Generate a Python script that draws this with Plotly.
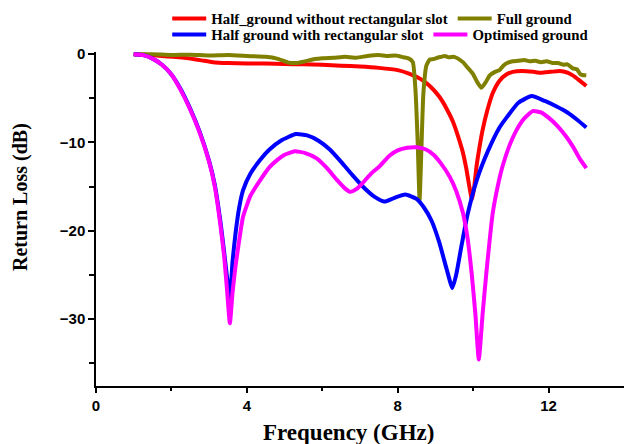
import plotly.graph_objects as go

# Half ground without rectangular slot
freq_red = [1.0, 1.3, 1.6, 1.9, 2.2, 2.5, 2.8, 3.1, 3.5, 4.0, 4.5, 5.0, 5.5, 6.0, 6.5,
            7.0, 7.5, 8.0, 8.3, 8.6, 8.85, 9.1, 9.3, 9.46, 9.6, 9.72, 9.82, 9.9, 9.97,
            10.03, 10.09, 10.17, 10.25, 10.38, 10.52, 10.7, 10.88, 11.05, 11.3, 11.6,
            11.8, 12.05, 12.3, 12.5, 12.64, 12.8, 13.0]
rl_red = [0.0, -0.05, -0.15, -0.25, -0.35, -0.5, -0.7, -0.9, -1.0, -1.05, -1.05, -1.1,
          -1.15, -1.2, -1.3, -1.4, -1.55, -1.8, -2.2, -2.8, -3.6, -4.8, -6.2, -7.6, -9.3,
          -11.0, -13.0, -15.0, -16.5, -15.0, -12.7, -10.5, -8.6, -6.3, -4.4, -3.0, -2.3,
          -2.0, -1.9, -2.0, -2.1, -2.0, -1.9, -2.1, -2.4, -2.9, -3.6]

# Full ground
freq_olive = [1.0, 1.5, 2.0, 2.5, 3.0, 3.5, 4.0, 4.5, 4.8, 5.1, 5.3, 5.5, 5.8, 6.0, 6.3,
              6.6, 6.9, 7.2, 7.5, 7.7, 7.95, 8.15, 8.3, 8.4, 8.47, 8.53, 8.58, 8.63, 8.68,
              8.76, 8.85, 8.95, 9.05, 9.15, 9.25, 9.35, 9.5, 9.6, 9.73, 9.85, 9.99, 10.1,
              10.22, 10.33, 10.44, 10.58, 10.7, 10.8, 10.9, 11.05, 11.2, 11.35, 11.5,
              11.65, 11.8, 11.95, 12.1, 12.25, 12.4, 12.5, 12.64, 12.75, 12.85, 13.0]
rl_olive = [0.0, 0.0, -0.1, -0.05, -0.15, -0.1, -0.2, -0.3, -0.5, -0.95, -1.0, -0.85,
            -0.55, -0.45, -0.4, -0.3, -0.4, -0.2, -0.1, -0.2, -0.15, -0.35, -0.5, -0.9,
            -4.0, -10.0, -16.5, -10.5, -4.5, -1.3, -0.6, -0.55, -0.4, -0.3, -0.2, -0.35,
            -0.3, -0.5, -0.9, -1.5, -2.2, -3.1, -3.8, -3.2, -2.4, -2.0, -1.8, -1.3, -1.0,
            -0.8, -0.75, -0.65, -0.8, -0.75, -0.9, -0.8, -1.0, -1.0, -1.2, -1.15, -1.6,
            -1.7, -2.3, -2.4]

# Half ground with rectangular slot
freq_blue = [1.0, 1.25, 1.5, 1.75, 2.0, 2.25, 2.5, 2.75, 3.0, 3.15, 3.3, 3.4, 3.48, 3.55,
             3.62, 3.7, 3.8, 3.9, 4.1, 4.35, 4.6, 4.9, 5.3, 5.6, 5.9, 6.2, 6.5, 6.8, 7.1,
             7.4, 7.65, 7.9, 8.2, 8.5, 8.7, 8.9, 9.1, 9.3, 9.45, 9.55, 9.7, 9.85, 10.1,
             10.4, 10.7, 10.9, 11.2, 11.55, 11.9, 12.2, 12.5, 12.75, 13.0]
rl_blue = [0.0, -0.1, -0.5, -1.2, -2.3, -4.0, -6.2, -8.8, -12.1, -14.8, -19.0, -22.5,
           -25.5, -27.8, -23.5, -20.3, -17.3, -15.4, -13.5, -12.0, -10.8, -9.8, -9.05,
           -9.2, -9.8, -10.8, -12.2, -13.7, -15.1, -16.2, -16.7, -16.3, -15.9, -16.4,
           -17.4, -18.9, -21.3, -24.4, -26.5, -25.0, -21.5, -18.2, -14.2, -10.9, -8.3,
           -7.1, -5.5, -4.75, -5.3, -5.9, -6.6, -7.4, -8.3]

# Optimised ground
freq_mag = [1.0, 1.25, 1.5, 1.75, 2.0, 2.25, 2.5, 2.75, 3.0, 3.15, 3.3, 3.4, 3.48, 3.55,
            3.62, 3.7, 3.8, 3.9, 4.1, 4.35, 4.6, 4.8, 5.0, 5.27, 5.55, 5.85, 6.1, 6.4,
            6.6, 6.75, 6.9, 7.07, 7.3, 7.52, 7.78, 8.0, 8.25, 8.5, 8.75, 8.95, 9.15,
            9.38, 9.55, 9.73, 9.85, 9.96, 10.06, 10.15, 10.25, 10.35, 10.52, 10.65,
            10.78, 10.95, 11.15, 11.35, 11.58, 11.8, 12.03, 12.25, 12.47, 12.65, 12.82,
            13.0]
rl_mag = [0.0, -0.1, -0.5, -1.2, -2.3, -4.1, -6.3, -8.9, -12.2, -15.0, -19.4, -23.0,
          -27.0, -30.5, -27.0, -24.0, -21.0, -18.4, -16.0, -14.3, -12.8, -12.0, -11.4,
          -11.0, -11.2, -11.8, -12.8, -14.3, -15.2, -15.6, -15.3, -14.6, -13.5, -12.7,
          -11.5, -10.9, -10.6, -10.55, -10.8, -11.4, -12.4, -13.9, -15.5, -18.0, -20.8,
          -24.8, -29.5, -34.6, -29.5, -24.8, -18.0, -15.0, -12.7, -10.5, -8.6, -7.3,
          -6.45, -6.6, -7.3, -8.2, -9.35, -10.5, -11.8, -12.9]

x_ticks = [0, 4, 8, 12]
x_minor = [2, 6, 10]
y_ticks = [0, -10, -20, -30]
y_minor = [-5, -15, -25, -35]

SERIF = "Times New Roman, Liberation Serif, serif"
SANS = "Arial, Liberation Sans, sans-serif"

fig = go.Figure()

series = [
    (freq_red, rl_red, "Half_ground without rectangular slot", "#FF0000", "legend"),
    (freq_olive, rl_olive, "Full ground", "#808000", "legend"),
    (freq_blue, rl_blue, "Half ground with rectangular slot", "#0000FF", "legend2"),
    (freq_mag, rl_mag, "Optimised ground", "#FF00FF", "legend2"),
]
for fx, fy, name, color, leg in series:
    fig.add_trace(go.Scatter(
        x=fx, y=fy, mode="lines", name=name, legend=leg,
        line=dict(color=color, width=4, shape="spline", smoothing=0.5),
    ))

legend_style = dict(
    orientation="h", xref="container", yref="container",
    xanchor="left", yanchor="middle", x=0.268,
    font=dict(family=SERIF, size=14.8, color="black", weight="bold"),
    bgcolor="rgba(0,0,0,0)", itemwidth=34, tracegroupgap=0,
)

fig.update_layout(
    width=624, height=444,
    margin=dict(l=96, r=0, t=52, b=58, autoexpand=False),
    paper_bgcolor="white", plot_bgcolor="white",
    legend=dict(**legend_style, y=1 - 19 / 444),
    legend2=dict(**legend_style, y=1 - 35 / 444),
    xaxis=dict(
        range=[0, 14], tickvals=x_ticks, ticks="outside", ticklen=5, tickwidth=1.5,
        tickcolor="black", showline=True, linecolor="black", linewidth=1.5,
        showgrid=False, zeroline=False,
        tickfont=dict(family=SANS, size=15, color="black", weight="bold"),
        minor=dict(tickvals=x_minor, ticks="outside", ticklen=3, tickwidth=1.5,
                   tickcolor="black", showgrid=False),
    ),
    yaxis=dict(
        range=[-37.6, 0.25], tickvals=y_ticks, ticks="outside", ticklen=6, tickwidth=1.5,
        tickcolor="black", showline=True, linecolor="black", linewidth=1.5,
        showgrid=False, zeroline=False,
        tickfont=dict(family=SANS, size=15, color="black", weight="bold"),
        minor=dict(tickvals=y_minor, ticks="outside", ticklen=5, tickwidth=1.5,
                   tickcolor="black", showgrid=False),
    ),
    annotations=[
        dict(text="Frequency (GHz)", xref="paper", yref="paper",
             x=(348 - 96) / 528, y=(386 - 432) / 334, xanchor="center", yanchor="middle",
             showarrow=False,
             font=dict(family=SERIF, size=23, color="black", weight="bold")),
        dict(text="Return Loss (dB)", xref="paper", yref="paper", textangle=-90,
             x=(20 - 96) / 528, y=(386 - 197) / 334, xanchor="center", yanchor="middle",
             showarrow=False,
             font=dict(family=SERIF, size=20, color="black", weight="bold")),
    ],
)

fig.write_html("out.html")
